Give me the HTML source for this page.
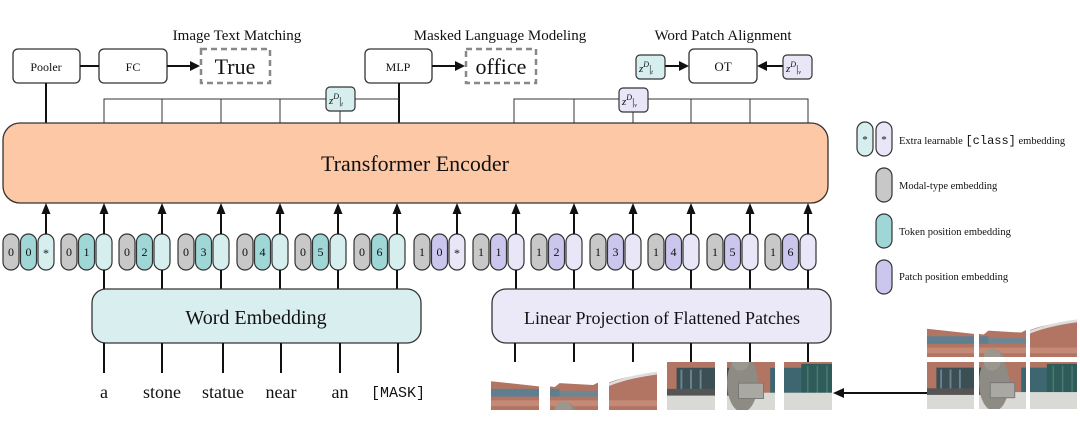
<!DOCTYPE html>
<html><head><meta charset="utf-8"><style>
html,body{margin:0;padding:0;background:#fff;}
svg{display:block;}
text{font-family:"Liberation Serif",serif;fill:#111;}
.mono{font-family:"Liberation Mono",monospace;}
</style></head><body>
<svg width="1080" height="439" viewBox="0 0 1080 439" xmlns="http://www.w3.org/2000/svg">
<defs>
<symbol id="scene" viewBox="0 0 150 100">
<rect x="0" y="0" width="150" height="100" fill="#fff"/>
<path d="M0 20 L55 26 L60 22 L95 24 Q110 15 150 12 L150 100 L0 100Z" fill="#b27563"/>
<rect x="0" y="28" width="60" height="8" fill="#5d7f90"/>
<rect x="60" y="30" width="40" height="6" fill="#6c8793"/>
<path d="M100 22 Q120 14 150 10 L150 13 Q120 17 100 25Z" fill="#ddd"/>
<rect x="0" y="40" width="150" height="6" fill="#c58a75"/>
<rect x="10" y="56" width="45" height="26" fill="#3c4f55"/>
<rect x="14" y="58" width="2" height="22" fill="#6a8590"/>
<rect x="24" y="58" width="2" height="22" fill="#6a8590"/>
<rect x="34" y="58" width="2" height="22" fill="#6a8590"/>
<rect x="95" y="56" width="25" height="30" fill="#3e6670"/>
<rect x="118" y="52" width="32" height="40" fill="#2f5b59"/>
<rect x="124" y="54" width="1.5" height="36" fill="#4a7a78"/>
<rect x="134" y="54" width="1.5" height="36" fill="#4a7a78"/>
<rect x="144" y="54" width="1.5" height="36" fill="#4a7a78"/>
<rect x="0" y="82" width="150" height="18" fill="#d9d9d6"/>
<rect x="0" y="78" width="60" height="7" fill="#555"/>
<ellipse cx="66" cy="72" rx="16" ry="30" fill="#8d8b84"/>
<circle cx="64" cy="50" r="9" fill="#9b978f"/>
<rect x="62" y="72" width="26" height="16" fill="#a9a8a3" stroke="#777" stroke-width="1"/>
</symbol>
</defs>

<text x="237" y="40" font-size="15" text-anchor="middle">Image Text Matching</text>
<text x="500" y="40" font-size="15" text-anchor="middle">Masked Language Modeling</text>
<text x="723" y="40" font-size="15" text-anchor="middle">Word Patch Alignment</text>

<g fill="#fff" stroke="#333" stroke-width="1.3">
<rect x="13" y="49" width="67" height="34" rx="5"/>
<rect x="99" y="49" width="68" height="34" rx="5"/>
<rect x="365" y="49" width="67" height="34" rx="5"/>
<rect x="689" y="49" width="68" height="34" rx="5"/>
</g>
<text x="46" y="71" font-size="12" text-anchor="middle">Pooler</text>
<text x="133" y="71" font-size="12" text-anchor="middle">FC</text>
<text x="398" y="71" font-size="12" text-anchor="middle">MLP</text>
<text x="723" y="71" font-size="13" text-anchor="middle">OT</text>

<g fill="none" stroke="#888" stroke-width="2.5" stroke-dasharray="6,4">
<rect x="201" y="49" width="69" height="34"/>
<rect x="466" y="49" width="70" height="34"/>
</g>
<text x="235" y="74" font-size="22" text-anchor="middle">True</text>
<text x="501" y="74" font-size="22" text-anchor="middle">office</text>

<g stroke="#111" stroke-width="2">
<line x1="80" y1="66" x2="99" y2="66"/>
<line x1="167" y1="66" x2="192" y2="66"/>
<line x1="432" y1="66" x2="457" y2="66"/>
<line x1="665" y1="66" x2="680" y2="66"/>
<line x1="783" y1="66" x2="766" y2="66"/>
<line x1="46" y1="83" x2="46" y2="124"/>
<line x1="399" y1="83" x2="399" y2="124"/>
</g>
<g fill="#111">
<polygon points="200,66 190,61 190,71"/>
<polygon points="465,66 455,61 455,71"/>
<polygon points="689,66 679,61 679,71"/>
<polygon points="757,66 767,61 767,71"/>
</g>

<g stroke="#333" stroke-width="1" fill="none">
<polyline points="104,124 104,99 399,99"/>
<line x1="162" y1="99" x2="162" y2="124"/>
<line x1="221" y1="99" x2="221" y2="124"/>
<line x1="280" y1="99" x2="280" y2="124"/>
<line x1="340" y1="99" x2="340" y2="124"/>
<polyline points="514,124 514,99 808,99 808,124"/>
<line x1="574" y1="99" x2="574" y2="124"/>
<line x1="633" y1="99" x2="633" y2="124"/>
<line x1="691" y1="99" x2="691" y2="124"/>
<line x1="750" y1="99" x2="750" y2="124"/>
</g>
<g stroke="#333" stroke-width="1.2">
<rect x="326" y="87" width="29" height="24" rx="4" fill="#d6eeee"/>
<rect x="619" y="88" width="29" height="24" rx="4" fill="#e9e6f8"/>
<rect x="636" y="55" width="29" height="24" rx="4" fill="#d6eeee"/>
<rect x="783" y="55" width="29" height="24" rx="4" fill="#e9e6f8"/>
</g>
<g font-size="11" font-style="italic">
<text x="329" y="104">z<tspan font-size="8" dy="-5">D</tspan><tspan dy="5" font-style="normal">|</tspan><tspan font-size="6" dy="2">t</tspan></text>
<text x="622" y="105">z<tspan font-size="8" dy="-5">D</tspan><tspan dy="5" font-style="normal">|</tspan><tspan font-size="6" dy="2">v</tspan></text>
<text x="639" y="72">z<tspan font-size="8" dy="-5">D</tspan><tspan dy="5" font-style="normal">|</tspan><tspan font-size="6" dy="2">t</tspan></text>
<text x="786" y="72">z<tspan font-size="8" dy="-5">D</tspan><tspan dy="5" font-style="normal">|</tspan><tspan font-size="6" dy="2">v</tspan></text>
</g>

<rect x="3" y="123" width="825" height="80" rx="17" fill="#fdc8a6" stroke="#333" stroke-width="1.3"/>
<text x="415" y="171" font-size="22" text-anchor="middle">Transformer Encoder</text>

<script>
(function(){
var xs=[46,104,162,221,280,338,397,457,516,574,633,691,750,808];
var ns="http://www.w3.org/2000/svg";
var svg=document.querySelector('svg');
function el(t,a,txt){var e=document.createElementNS(ns,t);for(var k in a)e.setAttribute(k,a[k]);if(txt!==undefined)e.textContent=txt;svg.appendChild(e);return e;}
xs.forEach(function(ax,i){
 var txt=i<7, idx=txt?i:i-7;
 var c2=txt?'#9fd6d6':'#cbc6ee', c3=txt?'#d6eeee':'#e9e6f8';
 var x0=ax-43;
 el('rect',{x:x0,y:234,width:16,height:36,rx:8,fill:'#c8c8c8',stroke:'#333','stroke-width':1.2});
 el('rect',{x:x0+17.5,y:234,width:16,height:36,rx:8,fill:c2,stroke:'#333','stroke-width':1.2});
 el('rect',{x:x0+35,y:234,width:16,height:36,rx:8,fill:c3,stroke:'#333','stroke-width':1.2});
 el('text',{x:x0+8,y:256,'font-size':12,'text-anchor':'middle'},txt?'0':'1');
 el('text',{x:x0+25.5,y:256,'font-size':12,'text-anchor':'middle'},String(idx));
 if(idx==0) el('text',{x:x0+43,y:257,'font-size':12,'text-anchor':'middle'},'*');
 el('line',{x1:ax,y1:234,x2:ax,y2:212,stroke:'#111','stroke-width':2});
 el('polygon',{points:(ax)+',203 '+(ax-4.5)+',214 '+(ax+4.5)+',214',fill:'#111'});
 if(idx>0) el('line',{x1:ax,y1:270,x2:ax,y2:290,stroke:'#111','stroke-width':2});
});
})();
</script>

<rect x="92" y="289" width="329" height="54" rx="14" fill="#d9efef" stroke="#333" stroke-width="1.3"/>
<text x="256" y="324" font-size="20" text-anchor="middle">Word Embedding</text>
<g stroke="#111" stroke-width="2">
<line x1="104" y1="343" x2="104" y2="373"/>
<line x1="162" y1="343" x2="162" y2="373"/>
<line x1="223" y1="343" x2="223" y2="373"/>
<line x1="281" y1="343" x2="281" y2="373"/>
<line x1="340" y1="343" x2="340" y2="373"/>
<line x1="398" y1="343" x2="398" y2="373"/>
</g>
<g font-size="18" text-anchor="middle">
<text x="104" y="398">a</text>
<text x="162" y="398">stone</text>
<text x="223" y="398">statue</text>
<text x="281" y="398">near</text>
<text x="340" y="398">an</text>
<text x="398" y="397" class="mono" font-size="15">[MASK]</text>
</g>

<rect x="492" y="289" width="339" height="54" rx="14" fill="#ebe8f8" stroke="#333" stroke-width="1.3"/>
<text x="662" y="324" font-size="18" text-anchor="middle">Linear Projection of Flattened Patches</text>
<g stroke="#111" stroke-width="2">
<line x1="515" y1="343" x2="515" y2="362"/>
<line x1="574" y1="343" x2="574" y2="362"/>
<line x1="633" y1="343" x2="633" y2="362"/>
<line x1="691" y1="343" x2="691" y2="362"/>
<line x1="750" y1="343" x2="750" y2="362"/>
<line x1="808" y1="343" x2="808" y2="362"/>
</g>

<svg x="491" y="362" width="48" height="48" viewBox="0 0 50 50"><use href="#scene" width="150" height="100"/></svg>
<svg x="550" y="362" width="48" height="48" viewBox="50 0 50 50"><use href="#scene" width="150" height="100"/></svg>
<svg x="609" y="362" width="48" height="48" viewBox="100 0 50 50"><use href="#scene" width="150" height="100"/></svg>
<svg x="667" y="362" width="48" height="48" viewBox="0 50 50 50"><use href="#scene" width="150" height="100"/></svg>
<svg x="727" y="362" width="48" height="48" viewBox="50 50 50 50"><use href="#scene" width="150" height="100"/></svg>
<svg x="784" y="362" width="48" height="48" viewBox="100 50 50 50"><use href="#scene" width="150" height="100"/></svg>

<svg x="927" y="310" width="47" height="47" viewBox="0 0 50 50"><use href="#scene" width="150" height="100"/></svg>
<svg x="979" y="310" width="47" height="47" viewBox="50 0 50 50"><use href="#scene" width="150" height="100"/></svg>
<svg x="1030" y="310" width="47" height="47" viewBox="100 0 50 50"><use href="#scene" width="150" height="100"/></svg>
<svg x="927" y="362" width="47" height="47" viewBox="0 50 50 50"><use href="#scene" width="150" height="100"/></svg>
<svg x="979" y="362" width="47" height="47" viewBox="50 50 50 50"><use href="#scene" width="150" height="100"/></svg>
<svg x="1030" y="362" width="47" height="47" viewBox="100 50 50 50"><use href="#scene" width="150" height="100"/></svg>

<line x1="927" y1="393" x2="842" y2="393" stroke="#111" stroke-width="2"/>
<polygon points="833,393 844,388 844,398" fill="#111"/>

<g stroke="#333" stroke-width="1.2">
<rect x="857" y="122" width="16" height="34" rx="8" fill="#d6eeee"/>
<rect x="876" y="122" width="16" height="34" rx="8" fill="#e9e6f8"/>
<rect x="876" y="168" width="16" height="34" rx="8" fill="#c8c8c8"/>
<rect x="876" y="214" width="16" height="34" rx="8" fill="#9fd6d6"/>
<rect x="876" y="260" width="16" height="34" rx="8" fill="#cbc6ee"/>
</g>
<text x="865" y="143" font-size="11" text-anchor="middle">*</text>
<text x="884" y="143" font-size="11" text-anchor="middle">*</text>
<g font-size="10.5">
<text x="899" y="144">Extra learnable <tspan class="mono" font-size="12">[class]</tspan> embedding</text>
<text x="899" y="189">Modal-type embedding</text>
<text x="899" y="235">Token position embedding</text>
<text x="899" y="280">Patch position embedding</text>
</g>
</svg>
</body></html>
